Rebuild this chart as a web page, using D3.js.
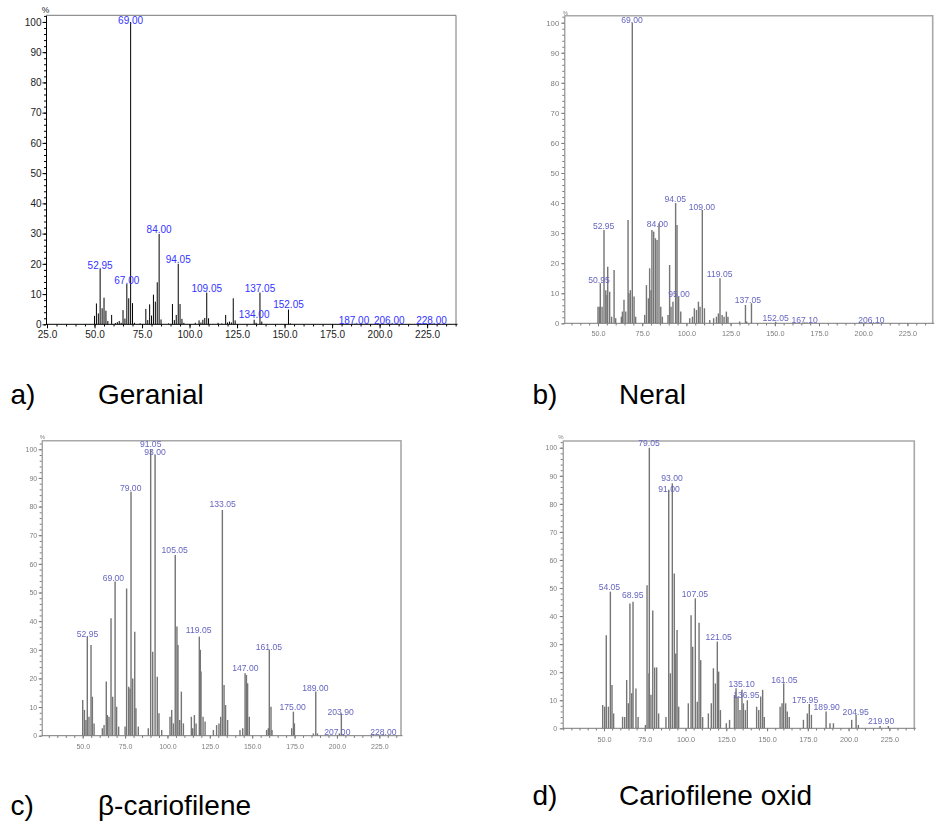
<!DOCTYPE html>
<html><head><meta charset="utf-8">
<script src="https://cdn.jsdelivr.net/npm/d3@7"></script>
<style>body{margin:0;background:#fff} svg{display:block}</style>
</head><body>
<svg id="chart" width="940" height="825"></svg>
<script>
// ---------- DATA (m/z, relative intensity %) ----------
const geranialMz  = [50,51,52,52.95,54,55,56,57,59,61,62,63,64,65,66,67,68,69,70,71,74,77,78,79,80,81,82,83,84,85,89,91,92,93,94.05,95,96,97,103,105,106,107,108,109.05,110,115,117,119,120,121,122,123,124,134,135,137.05,138,152.05,153,187,206,228];
const geranialInt = [2.8,6.9,3.6,18.3,5.3,8.8,4.5,1.1,3.1,0.4,0.7,1.1,0.5,4.7,1.9,13.3,8.6,100,7,0.5,0.3,5.1,1.4,6.6,2.9,9.8,7.5,13.9,29.9,1.6,0.3,6.7,1.4,3.1,20,6.7,1.8,0.5,0.5,1.3,0.6,1.5,2.1,10.5,2,0.5,0.3,3.1,0.6,0.9,0.6,8.6,1.3,1.5,0.5,10.5,0.9,4.9,0.3,0.2,0.2,0.2];
const geranialLabels = [["52.95",52.95,18.3],["67.00",67,13.3],["69.00",69,99.3],["84.00",84,30.2],["94.05",94.05,20.2],["109.05",109.05,10.8],["134.00",134,2.0],["137.05",137.05,10.8],["152.05",152.05,5.3],["187.00",186.5,0],["206.00",205.1,0],["228.00",227.3,0]];

const neralMz  = [50.0,50.8,51.3,52.3,53.4,54.4,55.1,55.5,56.6,57.7,59.1,60,63.2,63.8,64.7,65.7,67,67.5,68.3,69.4,70.4,71.3,76.4,77.4,78.5,79.2,80,80.5,81.5,82.5,83.4,84.5,85.5,86.4,89.6,90.5,91.3,92.4,93.9,94.7,95.6,96.8,101.9,103.4,104.5,105.7,106.8,107.7,109,110.2,113.2,115.4,117,118.1,119,120.2,121.3,122.6,123.5,130.1,133.4,134.1,136.8,150.5,166.9,204.6];
const neralInt = [5.5,5.5,13.3,5.5,31,11,9.4,18.8,10.5,2.2,17.7,1.7,2.2,3.9,7.8,3.9,34.4,10,11,100,8.9,2.2,2.8,12.7,8.3,18.3,11,31,30.5,28.3,27.7,33.3,5.5,2.2,2.8,19.4,5.5,7.2,40,32.7,8.9,3.9,1.7,2.2,5,4.4,7.2,5.5,37.7,5,1.1,1.7,2.2,3.3,15,2.8,2.2,3.9,2.2,0.6,6.1,0.6,6.7,0.5,0.3,0.3];
const neralLabels = [["69.00",69.2,99.8],["52.95",53.2,31.3],["50.95",50.6,13.5],["84.00",83.6,32.2],["94.05",93.7,40.5],["109.00",108.8,37.7],["95.00",95.8,8.9],["119.05",118.8,15.5],["137.05",134.8,6.9],["152.05",150.5,0.6],["167.10",166.9,0.2],["206.10",204.6,0.2]];

const cariofileneMz  = [50.0,51.0,51.9,52.7,53.7,54.9,55.7,56.7,61.6,62.6,63.9,64.5,65.5,66.7,67.7,69.1,70.0,71.2,75,75.9,77.1,77.9,78.5,79.5,80.7,81.4,82.8,88.7,90.1,91.3,92.7,94.0,95.0,96.6,101.5,102.5,103.5,104.6,105.6,106.2,107.2,108.2,109.4,114.1,114.9,115.9,116.9,118.8,119.4,119.8,121.0,122.2,127.1,129.0,130.4,131.4,132.4,133.4,134.3,135.5,142.8,144.4,145.8,146.6,147.3,148.3,158.5,159.5,160.1,161.1,161.7,173.3,174.3,174.9,186.1,187.5,188.5,201.4,202.6,203.8,221.5,227.4];
const cariofileneInt = [12.5,9,5.5,34.6,6.6,31.7,13.6,4.3,2.6,3.7,18.9,7.2,6.6,41,13.6,53.8,10.1,3.2,3.2,51.4,17.1,16.5,85.2,20,36.3,9.6,3.2,2.6,100,29.3,98,20.6,7.8,2,6.6,9,4.3,63.1,38.1,31.7,5.5,15.4,4.3,6.6,2.6,7.2,4.3,34.6,30,22.4,6.6,5,2,3.7,4.3,6.6,78.8,17.7,10.7,5.5,2,2.6,21.8,21.2,18.3,6.6,2,2.6,29.9,10.1,2,2.6,8.4,4.3,0.8,15.4,0.8,0.8,7.8,0.6,0.5,0.5];
const cariofileneLabels = [["91.05",90.1,100.9],["93.00",92.7,98],["79.00",78.3,85.6],["133.05",132.6,79.7],["105.05",104.3,63.9],["69.00",68.1,54],["52.95",52.8,34.6],["119.05",118.4,35.7],["161.05",159.9,29.9],["147.00",146,22.6],["175.00",173.9,9],["189.00",187.3,15.6],["203.90",202.2,7.2],["207.00",200.2,0.2],["228.00",227.4,0.2]];

const oxidMz  = [49.2,50.4,51.4,52.7,53.9,54.9,55.9,61.4,62.7,63.9,64.9,65.9,67,67.8,69.6,70.9,75.4,76.4,77.6,77.8,78.8,79.9,81.1,82.3,83.5,88,89.7,90.7,91.9,93.1,94,94.8,95.8,101.7,103.4,104.4,106,107.2,108.3,109.3,110.5,114,115.8,117.1,118.3,119.5,120.3,121.4,125,127,130,131,132.2,133.4,134.6,135.5,136.7,137.9,143.6,144.9,146.1,147.3,148.3,158,159.2,160.2,161.4,162.4,163.6,172.3,174.7,175.9,177.2,186.2,188.6,190.7,201.9,204.6,206,219.3,224.4];
const oxidInt = [8.3,7.7,33.2,7.7,48.7,15.4,5.3,4.1,4,17.2,8.9,44.5,12.5,45.1,14.2,4,1.2,51,19.6,100,12,42,21.7,21.7,5.3,4,85,19.6,87.3,55.2,26.7,35,7.7,8.9,40.3,29.1,46.3,9.5,37.6,24.3,4,5.3,8.9,21.4,16,30.9,20.2,6.5,1.8,3,11.9,14.3,11.3,6.5,13.7,8.9,6.5,10,7.7,6.5,11.3,13.7,4,7.7,8.9,16,8.9,6,4,3,5.3,8.7,4.8,6,1.8,1.8,3,4.8,1.2,0.8,0.8];
const oxidLabels = [["79.05",77.6,100.5],["93.00",91.7,88],["91.00",89.9,84.3],["54.05",53.3,49.3],["68.95",67.6,46.6],["107.05",105.8,46.9],["121.05",120.3,31.5],["135.10",134.4,14.8],["136.95",137.3,10.9],["161.05",160.6,16.3],["175.95",173.3,8.9],["189.90",186.6,6.5],["204.95",204.4,4.8],["219.90",219.9,1.5]];

const xTickLabelsA = [25,50,75,100,125,150,175,200,225];
const xTickLabelsBCD = [50,75,100,125,150,175,200,225];
const yTickLabels = [0,10,20,30,40,50,60,70,80,90,100];
const captions = [["a)","Geranial"],["b)","Neral"],["c)","\u03b2-cariofilene"],["d)","Cariofilene oxid"]];

// ---------- LAYOUT ----------
const FONT = "'Liberation Sans', Arial, Helvetica, sans-serif";
const svg = d3.select("#chart");
const defs = svg.append("defs");
defs.append("filter").attr("id","blurB").attr("x","-5%").attr("y","-5%").attr("width","110%").attr("height","110%")
  .append("feGaussianBlur").attr("stdDeviation",0.75);
defs.append("filter").attr("id","blurCD").attr("x","-5%").attr("y","-5%").attr("width","110%").attr("height","110%")
  .append("feGaussianBlur").attr("stdDeviation",0.55);

const sharp = {bar:"#000", barW:1, lab:"#3333ff", labFs:10, tick:"#222", tickFs:10, ytickFs:10, axis:"#000", frame:"#777", frameW:1, filter:null};
const soft  = {bar:"#747474", barW:1.4, lab:"#6666c0", labFs:8.6, tick:"#7e7e7e", tickFs:7.3, ytickFs:7.3, axis:"#7a7a7a", frame:"#a8a8a8", frameW:1.6};

const panels = [
  {mz:geranialMz, it:geranialInt, labels:geranialLabels, xt:xTickLabelsA, box:{l:46,r:456,t:15.3,b:324.3}, xDom:[24.47,240.2], yTop:102.2,
   st:sharp, ySize:3.5, yPad:1, xSize:4, xPad:3, pct:[45.5,13,8.5]},
  {mz:neralMz, it:neralInt, labels:neralLabels, xt:xTickLabelsBCD, box:{l:564.3,r:932.7,t:15.7,b:323.3}, xDom:[30.94,239.3], yTop:102.33,
   st:Object.assign({},soft,{filter:"url(#blurB)", ytickFs:7.8}), ySize:3, yPad:2, xSize:3, xPad:4.5, pct:[565.5,14.5,5.5]},
  {mz:cariofileneMz, it:cariofileneInt, labels:cariofileneLabels, xt:xTickLabelsBCD, box:{l:41.7,r:401,t:440.7,b:735.7}, xDom:[25.8,237.8], yTop:103.0,
   st:Object.assign({},soft,{filter:"url(#blurCD)", tickFs:7, ytickFs:7}), ySize:3, yPad:1.5, xSize:3, xPad:5, pct:[42.5,439,6]},
  {mz:oxidMz, it:oxidInt, labels:oxidLabels, xt:xTickLabelsBCD, box:{l:562.7,r:914.3,t:441,b:728.3}, xDom:[24.67,240.3], yTop:102.4,
   st:Object.assign({},soft,{filter:"url(#blurCD)", ytickFs:7}), ySize:3, yPad:2.5, xSize:3, xPad:5.5, pct:[561,439,6]}
];

panels.forEach(p => {
  const st = p.st, B = p.box;
  const g = svg.append("g");
  if (st.filter) g.attr("filter", st.filter);
  const x = d3.scaleLinear().domain(p.xDom).range([B.l, B.r]);
  const y = d3.scaleLinear().domain([0, p.yTop]).range([B.b, B.t]);

  // frame (top & right)
  g.append("path").attr("d", `M${B.l},${B.t}H${B.r}V${B.b}`).attr("fill","none")
    .attr("stroke", st.frame).attr("stroke-width", st.frameW);

  // bars
  g.append("g").selectAll("line").data(p.mz.map((m,i)=>[m,p.it[i]])).join("line")
    .attr("x1", d=>x(d[0])).attr("x2", d=>x(d[0]))
    .attr("y1", y(0)).attr("y2", d=>y(d[1]))
    .attr("stroke", st.bar).attr("stroke-width", st.barW);

  // minor ticks
  const minorX = d3.range(Math.ceil(p.xDom[0]/5)*5, p.xDom[1], 5);
  const minorY = d3.range(0, p.yTop, 2);
  const axMinX = g.append("g").attr("transform",`translate(0,${B.b})`)
    .call(d3.axisBottom(x).tickValues(minorX).tickSize(2.2).tickFormat("").tickSizeOuter(0));
  const axMinY = g.append("g").attr("transform",`translate(${B.l},0)`)
    .call(d3.axisLeft(y).tickValues(minorY).tickSize(2).tickFormat("").tickSizeOuter(0));
  [axMinX, axMinY].forEach(a => { a.select(".domain").remove(); a.selectAll("line").attr("stroke", st.axis); });

  // major axes
  const ax = g.append("g").attr("transform",`translate(0,${B.b})`)
    .call(d3.axisBottom(x).tickValues(p.xt).tickFormat(d3.format(".1f")).tickSize(p.xSize).tickPadding(p.xPad).tickSizeOuter(0));
  const ay = g.append("g").attr("transform",`translate(${B.l},0)`)
    .call(d3.axisLeft(y).tickValues(yTickLabels).tickFormat(d=>d).tickSize(p.ySize).tickPadding(p.yPad).tickSizeOuter(0));
  ax.select(".domain").attr("d", `M${B.l},0H${B.r+1.5}`);
  [ax, ay].forEach(a => {
    a.select(".domain").attr("stroke", st.axis);
    a.selectAll("line").attr("stroke", st.axis);
    a.selectAll("text").attr("fill", st.tick).attr("font-family", FONT);
  });
  ax.selectAll("text").attr("font-size", st.tickFs);
  ay.selectAll("text").attr("font-size", st.ytickFs);
  ax.attr("font-size", null); ay.attr("font-size", null);

  // % sign
  g.append("text").attr("x", p.pct[0]).attr("y", p.pct[1]).attr("text-anchor","middle")
    .attr("font-family", FONT).attr("font-size", p.pct[2]).attr("fill", st.tick).text("%");

  // peak labels
  g.append("g").selectAll("text").data(p.labels).join("text")
    .attr("x", d=>x(d[1])).attr("y", d=>y(d[2]))
    .attr("text-anchor","middle").attr("font-family", FONT).attr("font-size", st.labFs)
    .attr("fill", st.lab).text(d=>d[0]);
});

// captions
const capPos = [[10.5,98,404],[532.5,619,404],[10.5,98,815],[532.5,619,805]];
captions.forEach((c,i) => {
  const [xl, xn, yb] = capPos[i];
  svg.append("text").attr("x", xl).attr("y", yb).attr("font-family", FONT).attr("font-size", 28).attr("fill","#000").text(c[0]);
  svg.append("text").attr("x", xn).attr("y", yb).attr("font-family", FONT).attr("font-size", 28).attr("fill","#000").text(c[1]);
});
</script>
</body></html>
